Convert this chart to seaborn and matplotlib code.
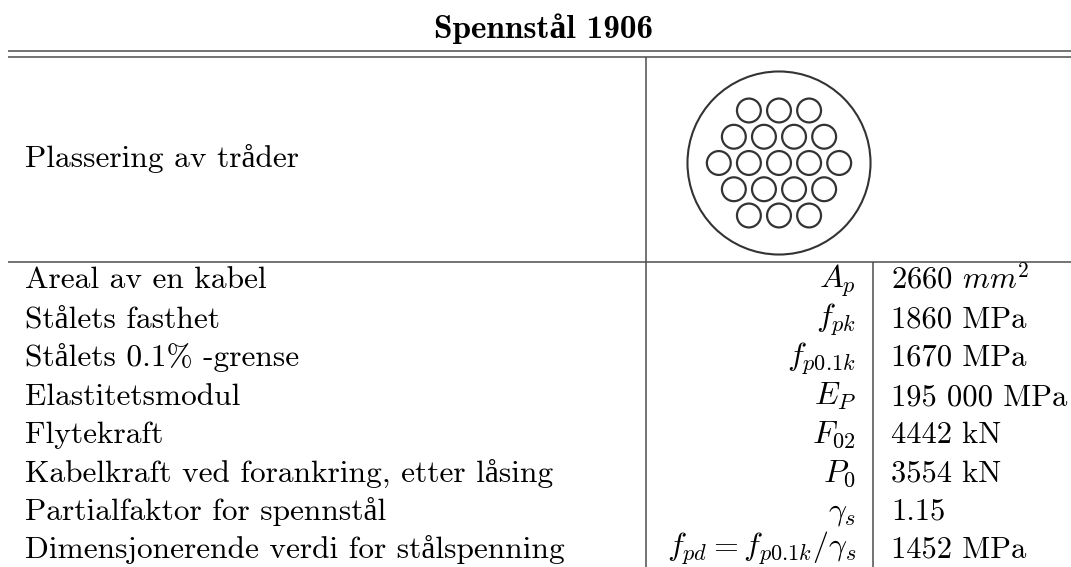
import numpy as np
import pandas as pd
import matplotlib
matplotlib.use('Agg')
import matplotlib.pyplot as plt
import seaborn as sns

title = "Spennstål 1906"
top_label = "Plassering av tråder"
row_labels = [
    "Areal av en kabel",
    "Stålets fasthet",
    "Stålets 0.1% -grense",
    "Elastitetsmodul",
    "Flytekraft",
    "Kabelkraft ved forankring, etter låsing",
    "Partialfaktor for spennstål",
    "Dimensjonerende verdi for stålspenning",
]
symbols = [
    r"$A_p$", r"$f_{pk}$", r"$f_{p0.1k}$", r"$E_P$", r"$F_{02}$", r"$P_0$",
    r"$\gamma_s$", r"$f_{pd}=f_{p0.1k}/\gamma_s$",
]
values = [
    r"2660 $mm^2$", "1860 MPa", "1670 MPa", "195 000 MPa",
    "4442 kN", "3554 kN", "1.15", "1452 MPa",
]
strand_rows = [3, 4, 5, 4, 3]

sns.set_theme(style='white')
plt.rcParams['font.family'] = ['cmr10', 'Liberation Serif']
plt.rcParams['mathtext.fontset'] = 'cm'

fig = plt.figure(figsize=(10.71, 5.67), dpi=100)
ax = fig.add_axes([0, 0, 1, 1])
ax.set_xlim(0, 1071)
ax.set_ylim(567, 0)
ax.axis('off')

# table rules
ink = '#333333'
rule = '#4d4d4d'
ax.hlines([50.5, 56.5], 8, 1071, color=rule, lw=1.1)
ax.hlines(261.5, 8, 1071, color=rule, lw=1.1)
ax.vlines(646, 57, 567, color=rule, lw=1.1)
ax.vlines(873, 261.5, 567, color=rule, lw=1.1)

# cable cross section
cx, cy = 779, 163
rows = []
for i, n in enumerate(strand_rows):
    for j in range(n):
        rows.append({'x': cx + (j - (n - 1) / 2) * 30.1, 'y': cy + (i - 2) * 26.25})
strands = pd.DataFrame(rows)
sns.scatterplot(data=strands, x='x', y='y', s=295, facecolor='none', edgecolor=ink,
                linewidth=1.6, ax=ax, legend=False, clip_on=False)
sns.scatterplot(x=[cx], y=[cy], s=17370, facecolor='none', edgecolor=ink,
                linewidth=1.5, ax=ax, legend=False)
ax.set_xlim(0, 1071)
ax.set_ylim(567, 0)
ax.set_xlabel('')
ax.set_ylabel('')

# text
ax.text(543.5, 38, title, fontsize=24, family=['cmb10', 'Liberation Serif'], fontweight='bold',
        ha='center', va='baseline', color='black')
ax.text(25, 167, top_label, fontsize=22.6, ha='left', va='baseline', color='black')

baselines = [288, 327, 366, 405, 443, 482, 520, 558]
for y, lab, sym, val in zip(baselines, row_labels, symbols, values):
    ax.text(25, y, lab, fontsize=22.6, ha='left', va='baseline', color='black')
    # last row subscript would run off the bottom edge
    ax.text(856, min(y, 556), sym, fontsize=23, ha='right', va='baseline', color='black')
    ax.text(891, y, val, fontsize=22, ha='left', va='baseline', color='black')

fig.savefig('out.png', dpi=100)
